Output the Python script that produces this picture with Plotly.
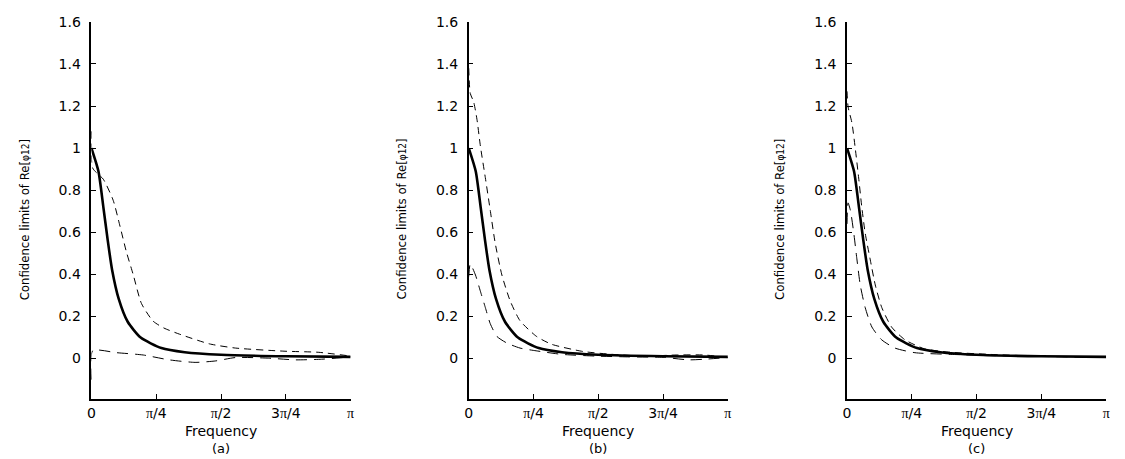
import plotly.graph_objects as go
from plotly.subplots import make_subplots

# frequency given as a fraction of pi
true_f = [0, 0.027, 0.046, 0.062, 0.08, 0.105, 0.14, 0.19, 0.27, 0.36, 0.5, 0.75, 1.0]
true_v = [1.0, 0.89, 0.72, 0.57, 0.42, 0.285, 0.175, 0.10, 0.05, 0.03, 0.018, 0.011, 0.008]

a_up_f = [0, 0.005, 0.046, 0.084, 0.11, 0.135, 0.161, 0.193, 0.238, 0.28, 0.34, 0.455, 0.556, 0.747, 0.875, 1.0]
a_up_v = [1.08, 0.905, 0.852, 0.752, 0.63, 0.507, 0.40, 0.262, 0.178, 0.145, 0.116, 0.07, 0.05, 0.035, 0.03, 0.012]
a_lo_f = [0, 0.005, 0.097, 0.2, 0.30, 0.40, 0.48, 0.556, 0.684, 0.786, 0.888, 1.0]
a_lo_v = [-0.10, 0.038, 0.028, 0.017, -0.006, -0.018, -0.011, 0.005, 0.002, -0.006, -0.003, 0.008]

b_up_f = [0, 0.006, 0.019, 0.032, 0.045, 0.064, 0.083, 0.102, 0.128, 0.16, 0.198, 0.262, 0.32, 0.44, 0.555, 0.68, 0.8, 0.91, 1.0]
b_up_v = [1.38, 1.26, 1.22, 1.135, 1.01, 0.86, 0.705, 0.55, 0.397, 0.274, 0.18, 0.105, 0.068, 0.034, 0.02, 0.012, 0.017, 0.017, 0.005]
b_lo_f = [0, 0.006, 0.026, 0.045, 0.064, 0.083, 0.109, 0.147, 0.198, 0.26, 0.36, 0.49, 0.62, 0.75, 0.85, 1.0]
b_lo_v = [0.39, 0.45, 0.397, 0.32, 0.243, 0.166, 0.105, 0.074, 0.05, 0.037, 0.02, 0.012, 0.008, 0.006, -0.006, 0.005]

c_up_f = [0, 0.004, 0.019, 0.032, 0.045, 0.057, 0.07, 0.089, 0.109, 0.134, 0.172, 0.224, 0.3, 0.4, 0.55, 0.75, 1.0]
c_up_v = [1.27, 1.197, 1.12, 0.997, 0.858, 0.72, 0.597, 0.474, 0.35, 0.243, 0.15, 0.089, 0.046, 0.03, 0.02, 0.011, 0.007]
c_lo_f = [0, 0.004, 0.013, 0.026, 0.038, 0.051, 0.07, 0.096, 0.134, 0.185, 0.262, 0.4, 0.6, 1.0]
c_lo_v = [0.64, 0.74, 0.705, 0.597, 0.474, 0.35, 0.243, 0.15, 0.089, 0.05, 0.028, 0.02, 0.013, 0.006]

panels = [
  ('(a)', a_up_f, a_up_v, a_lo_f, a_lo_v),
  ('(b)', b_up_f, b_up_v, b_lo_f, b_lo_v),
  ('(c)', c_up_f, c_up_v, c_lo_f, c_lo_v),
]

x_ticks = [0, 0.25, 0.5, 0.75, 1.0]
pi = "<span style='font-family:Liberation Serif'>π</span>"
x_ticktext = ['0', pi + '/4', pi + '/2', '3' + pi + '/4', pi]
y_ticks = [0, 0.2, 0.4, 0.6, 0.8, 1.0, 1.2, 1.4, 1.6]
y_ticktext = ['0', '0.2', '0.4', '0.6', '0.8', '1', '1.2', '1.4', '1.6']

# the page has an 8px body margin; positions below are window pixels
OFF = 8
W, H = 1125, 459
def px(X):
  return (X - OFF) / W
def py(Y):
  return 1 - (Y - OFF) / H

left_px = [88, 468, 849]
plot_w = 261
axis_top, axis_bot = 14, 398

tick_font = dict(size=14, color='black', family='DejaVu Sans')

fig = make_subplots(rows=1, cols=3)
for i, (lab, uf, uv, lf, lv) in enumerate(panels):
  col = i + 1
  fig.add_trace(go.Scatter(x=uf, y=uv, mode='lines', line=dict(color='black', width=1, dash='7px,5px', shape='spline', smoothing=0.6)), row=1, col=col)
  fig.add_trace(go.Scatter(x=lf, y=lv, mode='lines', line=dict(color='black', width=1, dash='11px,7px', shape='spline', smoothing=0.6)), row=1, col=col)
  fig.add_trace(go.Scatter(x=true_f, y=true_v, mode='lines', line=dict(color='black', width=2.6, shape='spline', smoothing=0.6)), row=1, col=col)

  xname = 'xaxis' if i == 0 else 'xaxis%d' % col
  yname = 'yaxis' if i == 0 else 'yaxis%d' % col
  fig.layout[xname].update(domain=[px(left_px[i]), px(left_px[i] + plot_w)], range=[0, 1.0],
    tickvals=x_ticks, ticktext=x_ticktext,
    showgrid=False, zeroline=False, showline=True, linecolor='black', linewidth=1.5,
    ticks='inside', ticklen=5, tickcolor='black', tickfont=tick_font, ticklabelstandoff=0)
  fig.layout[yname].update(domain=[py(axis_bot), py(axis_top)], range=[-0.193, 1.6],
    tickvals=y_ticks, ticktext=y_ticktext, ticklabeloverflow='allow',
    showgrid=False, zeroline=False, showline=True, linecolor='black', linewidth=1.5,
    ticks='inside', ticklen=5, tickcolor='black', tickfont=tick_font, ticklabelstandoff=6)

  xc = px(left_px[i] + plot_w / 2)
  fig.add_annotation(text='Frequency', x=xc, y=py(430), xref='paper', yref='paper',
    xanchor='center', yanchor='middle', borderpad=0,
    showarrow=False, font=dict(size=14, color='black', family='DejaVu Sans'))
  fig.add_annotation(text=lab, x=xc, y=py(448), xref='paper', yref='paper',
    xanchor='center', yanchor='middle', borderpad=0,
    showarrow=False, font=dict(size=13, color='black', family='DejaVu Sans'))
  fig.add_annotation(text="Confidence limits of Re[<span style='font-size:10px'>φ12</span>]",
    x=px(left_px[i] - 68), y=py(215), xref='paper', yref='paper', textangle=-90,
    xanchor='center', yanchor='middle',
    showarrow=False, font=dict(size=13, color='black', family='DejaVu Sans Condensed, Liberation Sans Narrow, Roboto'))

fig.update_layout(width=W, height=H, margin=dict(l=0, r=0, t=0, b=0), showlegend=False,
  plot_bgcolor='white', paper_bgcolor='white', font=dict(family='DejaVu Sans', color='black'))

fig.write_html("out.html")
